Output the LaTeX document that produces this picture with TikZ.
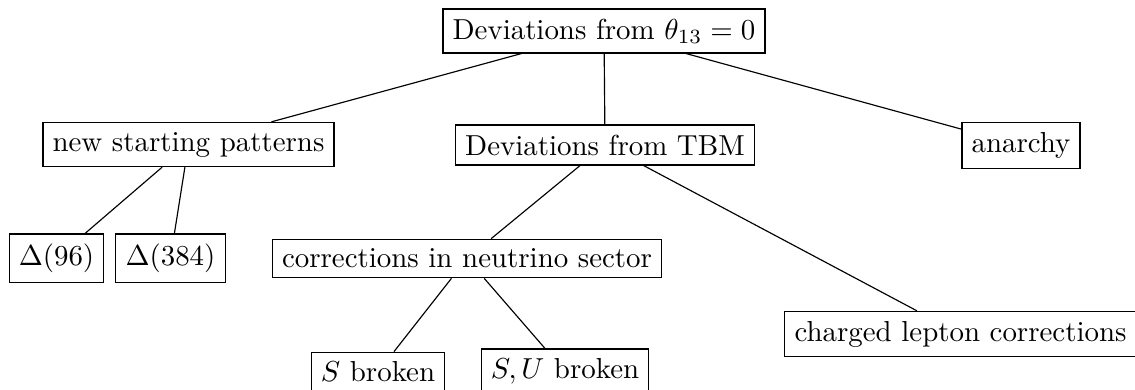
\documentclass[tikz,border=0pt]{standalone}
\begin{document}
\begin{tikzpicture}[x=0.346pt,y=-0.346pt,
  box/.style={draw,rectangle,inner sep=3.33pt,font=\normalsize}]
\useasboundingbox (0,0) rectangle (1135,389);
\node[box] (root) at (604,31) {Deviations from $\theta_{13}=0$};
\node[box] (new) at (188.5,144.5) {new starting patterns};
\node[box] (tbm) at (605,145) {Deviations from TBM};
\node[box] (an) at (1021,145.5) {anarchy};
\node[box] (d96) at (56.5,258) {$\Delta(96)$};
\node[box] (d384) at (170.5,258) {$\Delta(384)$};
\node[box] (corr) at (467,258.5) {corrections in neutrino sector};
\node[box] (cl) at (960.5,334) {charged lepton corrections};
\node[box] (sb) at (378,372) {$S$ broken};
\node[box] (sub) at (565,371.5) {$S,U$ broken};
\draw (root) -- (new);
\draw (root) -- (tbm);
\draw (root) -- (an);
\draw (new) -- (d96);
\draw (new) -- (d384);
\draw (tbm) -- (corr);
\draw (tbm) -- (cl);
\draw (corr) -- (sb);
\draw (corr) -- (sub);
\end{tikzpicture}
\end{document}
